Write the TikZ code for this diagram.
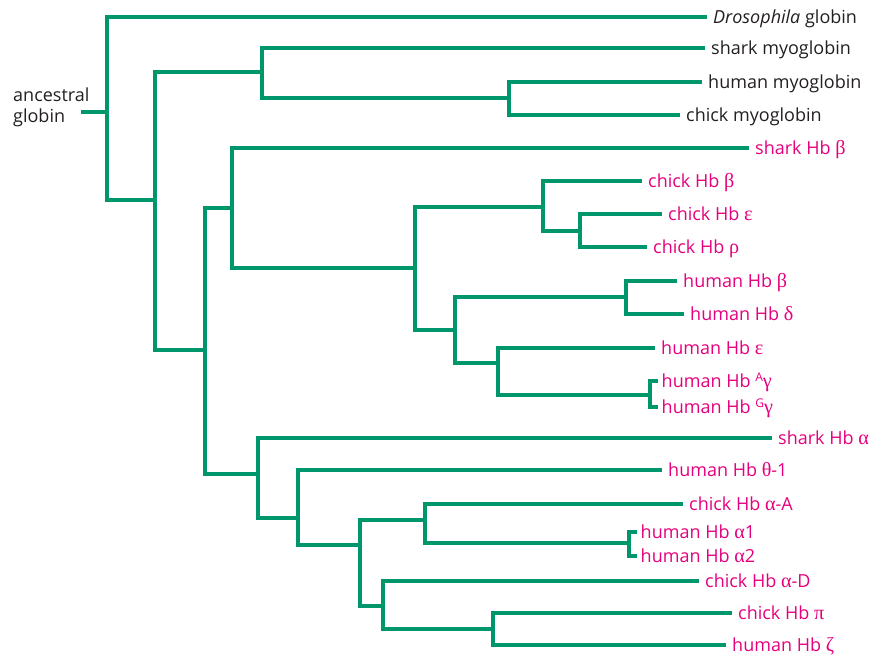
\documentclass[tikz,border=0pt]{standalone}
\usepackage{fontspec}
\setmainfont{Open Sans}
\newfontfamily\grk[Scale=1.12]{Liberation Serif}
\newcommand{\gk}[1]{{\grk #1}}
\newcommand{\hbsup}[1]{\raisebox{0.55ex}{\fontsize{12}{12}\selectfont #1}}
\usepackage{tikz}

\definecolor{treegreen}{HTML}{00966C}
\definecolor{hbpink}{HTML}{E5007D}
\definecolor{ink}{HTML}{231F20}

\tikzset{
  branch/.style={draw=treegreen, line width=3.6pt, line cap=rect},
  leaf/.style={anchor=west, inner xsep=8pt, inner ysep=0pt, text height=12.5pt, text depth=0pt, font=\fontsize{18}{20}\selectfont},
  twin/.style={leaf, inner xsep=5.5pt},
  hbleaf/.style={leaf, text=hbpink},
  myoleaf/.style={leaf, text=ink}
}

\begin{document}
\begin{tikzpicture}[x=1pt,y=-1pt]

\useasboundingbox (0,0) rectangle (874,659);

% branch points
\coordinate (r0) at (107,112);
\coordinate (n1) at (155,200);
\coordinate (myo) at (262,72);
\coordinate (hmyo) at (509,98);
\coordinate (hb) at (205,350);
\coordinate (beta) at (232,208);
\coordinate (b2) at (415,268);
\coordinate (cb) at (543,207);
\coordinate (ce) at (580,231);
\coordinate (hbeta) at (455,330);
\coordinate (hbd) at (626,297);
\coordinate (hg) at (498,363);
\coordinate (gam) at (650,395);
\coordinate (alpha) at (258,474);
\coordinate (a2) at (298,518);
\coordinate (a3) at (360,545);
\coordinate (aa) at (425,520);
\coordinate (a12) at (629,543);
\coordinate (ad) at (383,606);
\coordinate (zp) at (493,629);
\coordinate (start) at (83,112);

% leaves
\node[myoleaf] (dros) at (705,17) {\textit{Drosophila} globin};
\node[myoleaf] (shm) at (703,48) {shark myoglobin};
\node[myoleaf] (hm) at (700,82) {human myoglobin};
\node[myoleaf] (cm) at (678,115) {chick myoglobin};
\node[hbleaf] (shb) at (747,148) {shark Hb \gk{β}};
\node[hbleaf] (chb) at (640,181) {chick Hb \gk{β}};
\node[hbleaf] (che) at (660,214) {chick Hb \gk{ε}};
\node[hbleaf] (chr) at (645,247) {chick Hb \gk{ρ}};
\node[hbleaf] (hbb) at (675,281) {human Hb \gk{β}};
\node[hbleaf] (hbdl) at (682,314) {human Hb \gk{δ}};
\node[hbleaf] (hbe) at (653,348) {human Hb \gk{ε}};
\node[hbleaf,twin] (ag) at (656,381) {human Hb \hbsup{A}\gk{γ}};
\node[hbleaf,twin] (gg) at (656,407) {human Hb \hbsup{G}\gk{γ}};
\node[hbleaf] (sha) at (770,438) {shark Hb \gk{α}};
\node[hbleaf] (theta) at (660,470) {human Hb \gk{θ}-1};
\node[hbleaf] (caa) at (681,504) {chick Hb \gk{α}-A};
\node[hbleaf,twin] (ha1) at (635,532) {human Hb \gk{α}1};
\node[hbleaf,twin] (ha2) at (635,556) {human Hb \gk{α}2};
\node[hbleaf] (cad) at (697,581) {chick Hb \gk{α}-D};
\node[hbleaf] (cpi) at (730,613) {chick Hb \gk{π}};
\node[hbleaf] (hz) at (724,645) {human Hb \gk{ζ}};

\node[anchor=north west, align=left, inner sep=0pt, text=ink, font=\fontsize{18}{21}\selectfont] (anc) at (13,88) {ancestral\\globin};

\draw[branch] (start) -- (r0);
\foreach \p/\c in {r0/dros.west, r0/n1, n1/myo, n1/hb, myo/shm.west, myo/hmyo,
    hmyo/hm.west, hmyo/cm.west, hb/beta, hb/alpha, beta/shb.west, beta/b2,
    b2/cb, b2/hbeta, cb/chb.west, cb/ce, ce/che.west, ce/chr.west,
    hbeta/hbd, hbeta/hg, hbd/hbb.west, hbd/hbdl.west, hg/hbe.west, hg/gam,
    gam/ag.west, gam/gg.west, alpha/sha.west, alpha/a2, a2/theta.west, a2/a3,
    a3/aa, a3/ad, aa/caa.west, aa/a12, a12/ha1.west, a12/ha2.west,
    ad/cad.west, ad/zp, zp/cpi.west, zp/hz.west}
  \draw[branch] (\p) |- (\c);

\end{tikzpicture}
\end{document}
